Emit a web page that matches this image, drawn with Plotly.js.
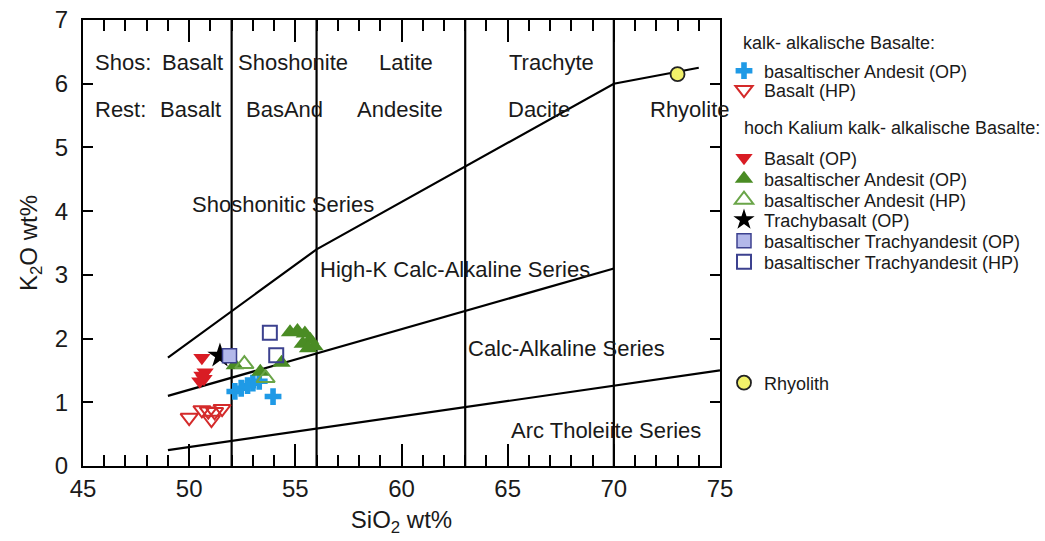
<!DOCTYPE html>
<html>
<head>
<meta charset="utf-8">
<script src="https://cdn.plot.ly/plotly-3.0.1.min.js"></script>
<style>html,body{margin:0;padding:0;background:#fff;}#chart{width:1045px;height:541px;}</style>
</head>
<body>
<div id="chart"></div>
<script>
// ---- Boundary lines (SiO2 vs K2O) ----
const shoX = [49, 56, 70, 74];
const shoY = [1.7, 3.4, 6.0, 6.25];
const hkX = [49, 70];
const hkY = [1.1, 3.1];
const thX = [49, 75];
const thY = [0.25, 1.5];
const divX = [52, 56, 63, 70];
const divYRange = [0, 7];

// ---- Samples ----
// kalk-alkalische Basalte
const caBaOpX = [52.15, 52.45, 52.75, 53.0, 53.3, 53.95];
const caBaOpY = [1.17, 1.22, 1.26, 1.30, 1.33, 1.09];
const caBHpX = [50.0, 50.6, 50.9, 51.05, 51.2, 51.55];
const caBHpY = [0.76, 0.88, 0.86, 0.73, 0.85, 0.90];
// hoch Kalium kalk-alkalische Basalte
const hkBOpX = [50.6, 50.75, 50.6, 50.7, 50.5];
const hkBOpY = [1.70, 1.47, 1.42, 1.37, 1.33];
const hkBaOpX = [52.15, 53.35, 54.35, 54.75, 55.1, 55.45, 55.7, 55.9, 55.35, 55.6];
const hkBaOpY = [1.58, 1.48, 1.62, 2.10, 2.12, 2.08, 1.98, 1.88, 1.92, 1.85];
const hkBaHpX = [52.6, 53.6];
const hkBaHpY = [1.60, 1.38];
const hkTbOpX = [51.45];
const hkTbOpY = [1.73];
const hkTaOpX = [51.9];
const hkTaOpY = [1.73];
const hkTaHpX = [53.8, 54.1];
const hkTaHpY = [2.09, 1.74];
const rhyX = [73.0];
const rhyY = [6.15];

// ---- Labels ----
const rowLabels = ["Shos:", "Rest:"];
const shosNames = ["Basalt", "Shoshonite", "Latite", "Trachyte"];
const shosX = [50.18, 54.9, 60.2, 67.05];
const restNames = ["Basalt", "BasAnd", "Andesite", "Dacite", "Rhyolite"];
const restX = [50.04, 54.47, 59.93, 66.48, 73.55];
const rowY = [6.34, 5.59];
const seriesNames = ["Shoshonitic Series", "High-K Calc-Alkaline Series", "Calc-Alkaline Series", "Arc Tholeiite Series"];
const seriesX = [54.42, 62.52, 67.75, 69.63];
const seriesY = [4.10, 3.08, 1.84, 0.565];
const groupTitles = ["kalk- alkalische Basalte:", "hoch Kalium kalk- alkalische Basalte:"];

const FONT = "Liberation Sans, Arial, sans-serif";
const TXT = "#1a1a1a";

// plot area in pixels (for legend placement)
const PL = 83, PR = 720, PT = 20, PB = 466;
function px2paperX(px) { return (px - PL) / (PR - PL); }
function px2paperY(py) { return (PB - py) / (PB - PT); }

// vertical division lines as one trace with gaps
const vx = [], vy = [];
divX.forEach(function (x) { vx.push(x, x, null); vy.push(divYRange[0], divYRange[1], null); });

const lineStyle = {color: "#000", width: 2.2};
const traces = [
  {x: vx, y: vy, mode: "lines", line: lineStyle, showlegend: false, hoverinfo: "skip"},
  {x: shoX, y: shoY, mode: "lines", line: lineStyle, showlegend: false, hoverinfo: "skip"},
  {x: hkX, y: hkY, mode: "lines", line: lineStyle, showlegend: false, hoverinfo: "skip"},
  {x: thX, y: thY, mode: "lines", line: lineStyle, showlegend: false, hoverinfo: "skip"},

  {x: caBaOpX, y: caBaOpY, mode: "markers", name: "basaltischer Andesit (OP)", legend: "legend",
   marker: {symbol: "cross", size: 14, color: "#1f9ae6", line: {width: 0}}},
  {x: caBHpX, y: caBHpY, mode: "markers", name: "Basalt (HP)", legend: "legend2",
   marker: {symbol: "triangle-down-open", size: 15, color: "#d42a2a", line: {width: 2}}},

  {x: hkBOpX, y: hkBOpY, mode: "markers", name: "Basalt (OP)", legend: "legend3",
   marker: {symbol: "triangle-down", size: 15, color: "#d91c24", line: {width: 0}}},
  {x: hkBaOpX, y: hkBaOpY, mode: "markers", name: "basaltischer Andesit (OP)", legend: "legend4",
   marker: {symbol: "triangle-up", size: 16, color: "#4a8c24", line: {width: 0}}},
  {x: hkBaHpX, y: hkBaHpY, mode: "markers", name: "basaltischer Andesit (HP)", legend: "legend5",
   marker: {symbol: "triangle-up-open", size: 16, color: "#6aa548", line: {width: 2}}},
  {x: hkTbOpX, y: hkTbOpY, mode: "markers", name: "Trachybasalt (OP)", legend: "legend6",
   marker: {symbol: "star", size: 19, color: "#000", line: {width: 0}}},
  {x: hkTaOpX, y: hkTaOpY, mode: "markers", name: "basaltischer Trachyandesit (OP)", legend: "legend7",
   marker: {symbol: "square", size: 14, color: "#b3b8ea", line: {width: 1.5, color: "#3c418f"}}},
  {x: hkTaHpX, y: hkTaHpY, mode: "markers", name: "basaltischer Trachyandesit (HP)", legend: "legend8",
   marker: {symbol: "square-open", size: 14, color: "#3c418f", line: {width: 2}}},

  {x: rhyX, y: rhyY, mode: "markers", name: "Rhyolith", legend: "legend9",
   marker: {symbol: "circle", size: 14, color: "#f2f16a", line: {width: 1.8, color: "#222"}}}
];

const annotations = [];
function addText(text, x, y, anchor) {
  annotations.push({text: text, x: x, y: y, xref: "x", yref: "y", showarrow: false,
    xanchor: anchor || "center", yanchor: "middle", font: {family: FONT, size: 22, color: TXT}});
}
addText(rowLabels[0], 45.45, rowY[0], "left");
addText(rowLabels[1], 45.45, rowY[1], "left");
shosNames.forEach(function (t, i) { addText(t, shosX[i], rowY[0]); });
restNames.forEach(function (t, i) { addText(t, restX[i], rowY[1]); });
seriesNames.forEach(function (t, i) { addText(t, seriesX[i], seriesY[i]); });

// legend group headers
const headerPx = [[741, 43], [742, 128]];
groupTitles.forEach(function (t, i) {
  annotations.push({text: t, x: px2paperX(headerPx[i][0]), y: px2paperY(headerPx[i][1]),
    xref: "paper", yref: "paper", showarrow: false, xanchor: "left", yanchor: "middle",
    font: {family: FONT, size: 18, color: TXT}});
});

const layout = {
  width: 1045, height: 541,
  margin: {l: PL, r: 1045 - PR, t: PT, b: 541 - PB, pad: 0},
  paper_bgcolor: "#fff", plot_bgcolor: "#fff",
  font: {family: FONT, color: TXT},
  xaxis: {range: [45, 75], tick0: 45, dtick: 5,
    ticks: "inside", ticklen: 22, tickwidth: 2,
    tickcolor: "#000", showline: true, linecolor: "#000", linewidth: 2, mirror: "ticks",
    showgrid: false, zeroline: false, tickfont: {family: FONT, size: 24, color: TXT},
    minor: {dtick: 1, ticks: "inside", ticklen: 11, tickwidth: 2, tickcolor: "#000", showgrid: false},
    title: {text: "SiO<sub>2</sub> wt%", font: {family: FONT, size: 24, color: TXT}, standoff: 10}},
  yaxis: {range: [0, 7], tick0: 0, dtick: 1, ticks: "inside", ticklen: 10, tickwidth: 2,
    tickcolor: "#000", showline: true, linecolor: "#000", linewidth: 2, mirror: "ticks",
    showgrid: false, zeroline: false, tickfont: {family: FONT, size: 24, color: TXT},
    ticklabelstandoff: 8,
    title: {text: "K<sub>2</sub>O wt%", font: {family: FONT, size: 24, color: TXT}, standoff: 10}},
  showlegend: true,
  annotations: annotations
};

// one single-entry legend per series, placed at the reference's rows
const legendRowsPx = [71, 90, 158, 179, 200, 220, 241, 262, 383];
const legendLeftPx = 724;
legendRowsPx.forEach(function (py, i) {
  const key = i === 0 ? "legend" : "legend" + (i + 1);
  layout[key] = {bgcolor: "rgba(0,0,0,0)", font: {family: FONT, size: 18, color: TXT},
    xref: "paper", yref: "paper", xanchor: "left", yanchor: "middle",
    x: px2paperX(legendLeftPx), y: px2paperY(py), borderwidth: 0};
});

Plotly.newPlot("chart", traces, layout, {displayModeBar: false, staticPlot: true});
</script>
</body>
</html>
